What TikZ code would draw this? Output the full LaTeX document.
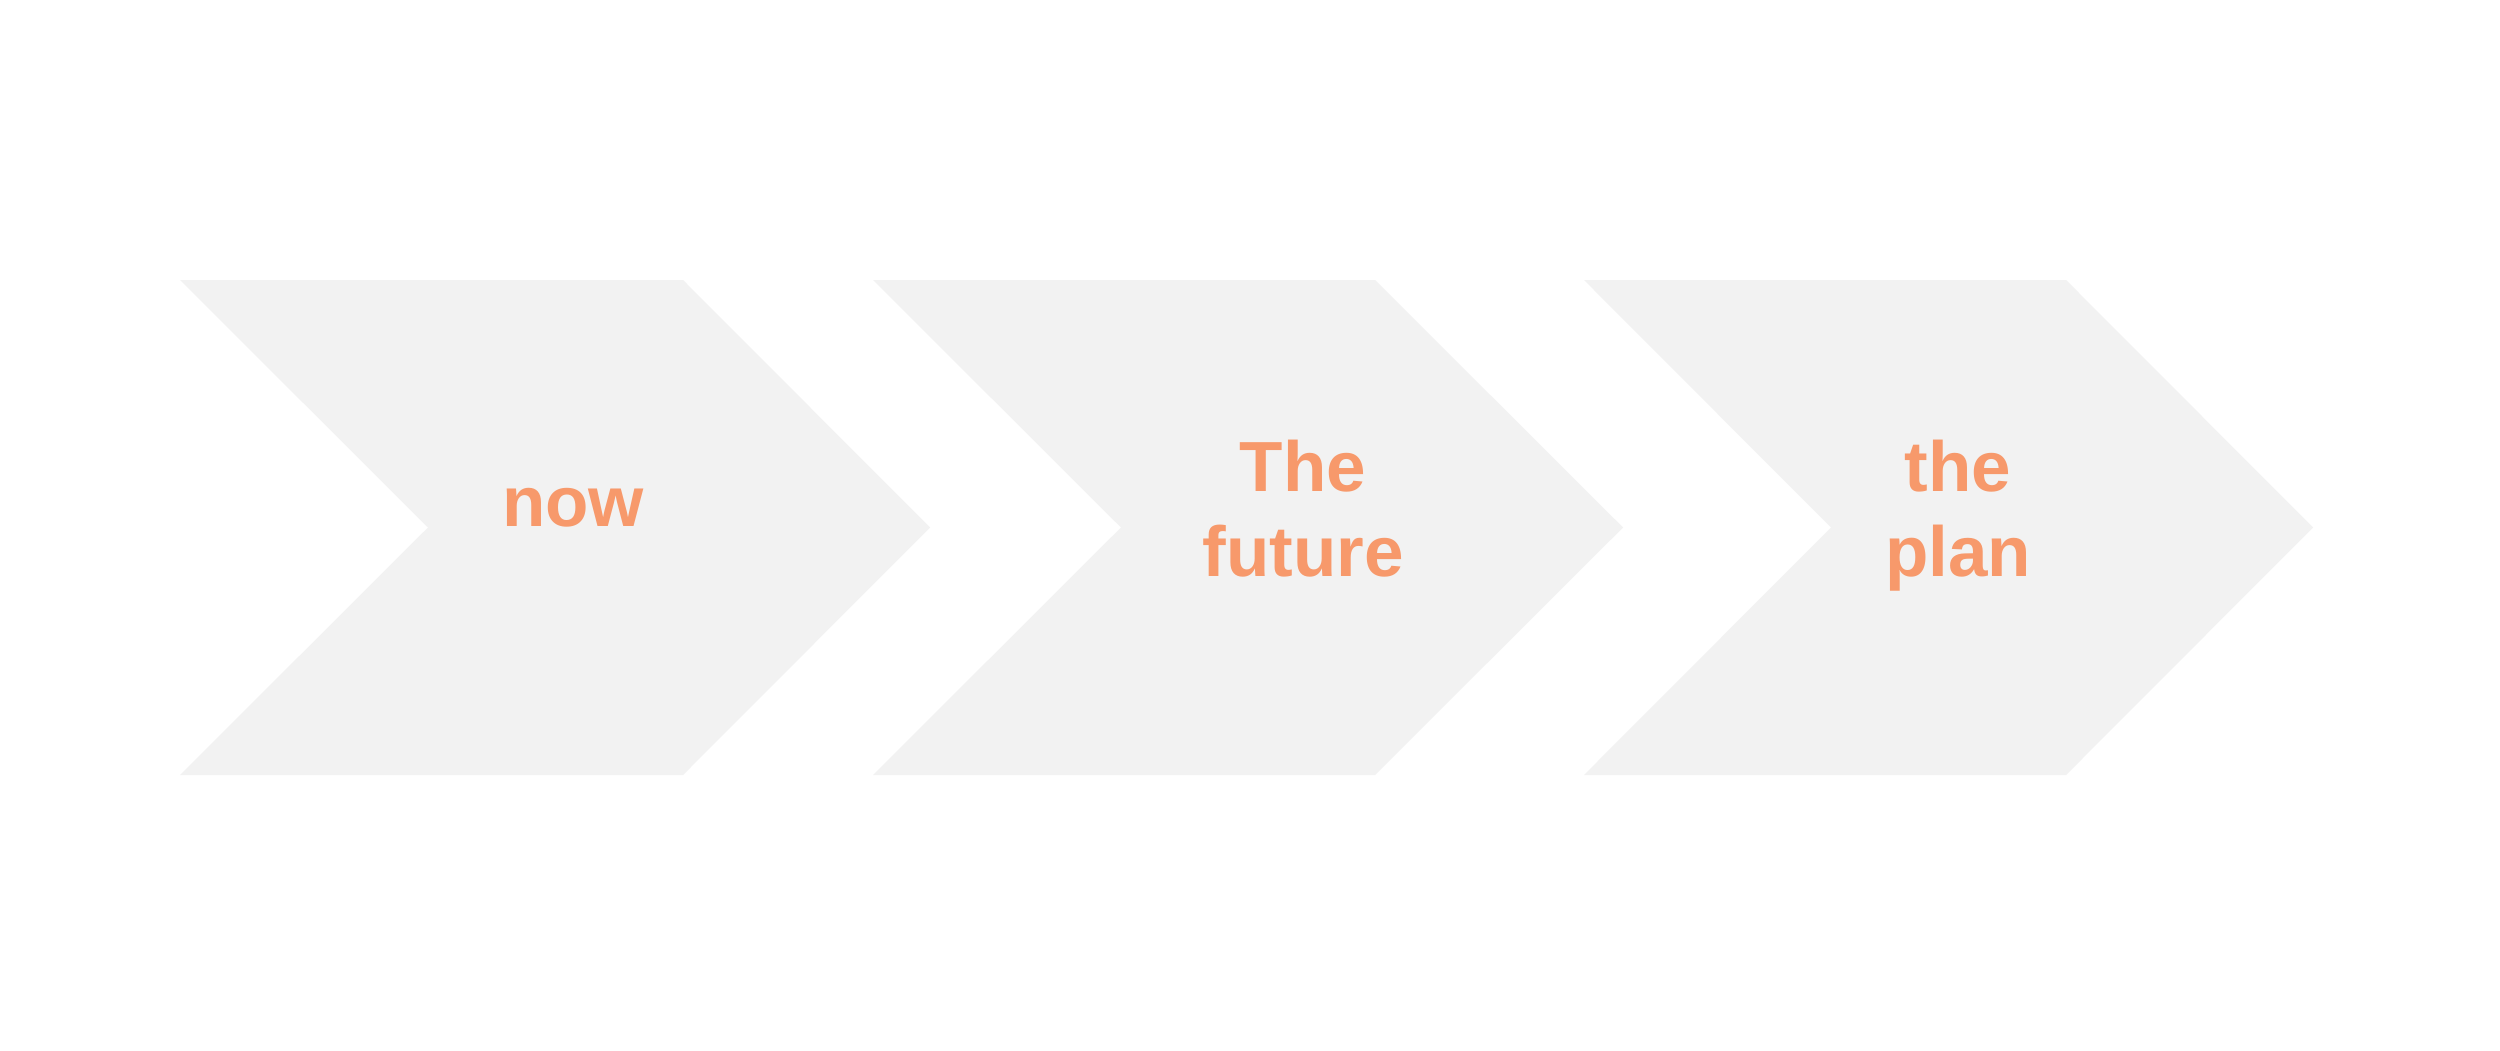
\documentclass[tikz,border=0pt]{standalone}
\usepackage{fontspec}
\setmainfont{Liberation Sans}
\definecolor{chevfill}{HTML}{F2F2F2}
\definecolor{labelorange}{HTML}{F7996B}
\begin{document}
\begin{tikzpicture}[x=1pt,y=-1pt,
  chevron/.style={fill=chevfill,draw=none},
  label/.style={text=labelorange,font=\fontsize{71}{85}\selectfont\bfseries,inner sep=0pt,align=center}]
\fill[white] (0,0) rectangle (2500,1051);
\useasboundingbox (0,0) rectangle (2500,1051);
% chevrons
\path[chevron] (180,280) -- (683,280) -- (930,527.5) -- (683,775) -- (180,775) -- (428,527.5) -- cycle;
\path[chevron] (873,280) -- (1375,280) -- (1623,527.5) -- (1375,775) -- (873,775) -- (1121,527.5) -- cycle;
\path[chevron] (1584,280) -- (2066,280) -- (2313,527.5) -- (2066,775) -- (1584,775) -- (1831,527.5) -- cycle;
% labels
\node[label,anchor=base] (now) at (573,526) {now};
\node[label,anchor=center] (future) at (1303,508.5) {The\\future};
\node[label,anchor=center] (plan) at (1958,515.5) {the\\plan};
\end{tikzpicture}
\end{document}
